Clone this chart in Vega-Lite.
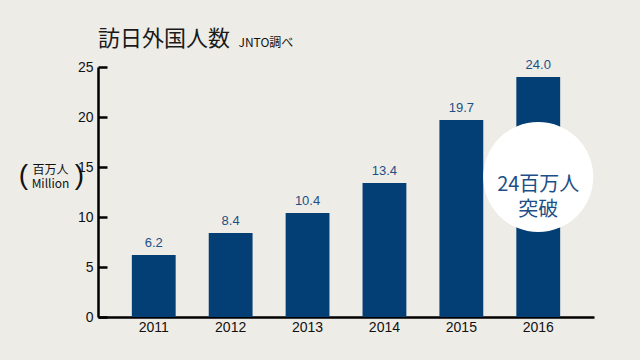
{
  "$schema": "https://vega.github.io/schema/vega-lite/v6.json",
  "width": 496,
  "height": 250,
  "autosize": {"type": "none"},
  "padding": {"left": 98, "top": 67, "right": 46, "bottom": 43},
  "background": "#eeece7",
  "config": {"view": {"stroke": null}, "font": "Liberation Sans"},
  "title": {
    "text": "訪日外国人数",
    "anchor": "start",
    "frame": "group",
    "font": "Noto Sans CJK JP",
    "fontSize": 22,
    "fontWeight": "normal",
    "color": "#1a1a1a",
    "offset": -15
  },
  "data": {
    "values": [
      {"year": "2011", "visitors": 6.2},
      {"year": "2012", "visitors": 8.4},
      {"year": "2013", "visitors": 10.4},
      {"year": "2014", "visitors": 13.4},
      {"year": "2015", "visitors": 19.7},
      {"year": "2016", "visitors": 24.0}
    ]
  },
  "layer": [
    {
      "mark": {"type": "bar", "color": "#033f74"},
      "encoding": {
        "x": {
          "field": "year", "type": "ordinal",
          "scale": {"paddingInner": 0.43, "paddingOuter": 0.44},
          "axis": {
            "orient": "bottom", "title": null, "labelAngle": 0,
            "domainColor": "#000", "domainWidth": 2.5, "ticks": false,
            "labelColor": "#111", "labelFontSize": 14, "labelPadding": 3
          }
        },
        "y": {
          "field": "visitors", "type": "quantitative",
          "scale": {"domain": [0, 25], "nice": false, "padding": 0, "zero": true},
          "axis": {
            "values": [0, 5, 10, 15, 20, 25],
            "grid": false,
            "domainColor": "#000", "domainWidth": 2.5,
            "tickColor": "#000", "tickWidth": 2.5, "tickSize": -9,
            "labelColor": "#111", "labelFontSize": 14, "labelPadding": 14,
            "title": ["百万人", "Million"],
            "titleFont": "Noto Sans CJK JP",
            "titleFontSize": 12, "titleFontWeight": "normal", "titleColor": "#111",
            "titleAngle": 0, "titleAlign": "center", "titleBaseline": "middle",
            "titleLineHeight": 14,
            "titleX": -48, "titleY": 102
          }
        }
      }
    },
    {
      "data": {"values": [{"year": "2016", "level": 14}]},
      "mark": {"type": "point", "shape": "circle", "filled": true, "color": "#ffffff", "opacity": 1, "size": 12100},
      "encoding": {
        "x": {"field": "year", "type": "ordinal", "axis": null},
        "y": {"field": "level", "type": "quantitative", "axis": null}
      }
    },
    {
      "mark": {"type": "text", "baseline": "bottom", "dy": -5, "fontSize": 13, "color": "#1d4f86"},
      "encoding": {
        "x": {
          "field": "year", "type": "ordinal",
          "axis": {
            "orient": "top", "labels": false, "ticks": false, "domain": false,
            "title": "JNTO調べ", "titleFont": "Noto Sans CJK JP", "titleFontSize": 12,
            "titleFontWeight": "normal", "titleColor": "#111",
            "titleAlign": "left", "titleBaseline": "alphabetic", "titleAngle": 0,
            "titleX": 140, "titleY": -21
          }
        },
        "y": {"field": "visitors", "type": "quantitative", "axis": null},
        "text": {"field": "visitors", "type": "quantitative", "format": ".1f"}
      }
    },
    {
      "data": {"values": [{"year": "2016", "level": 13.25, "note": "24百万人\n突破"}]},
      "mark": {"type": "text", "lineBreak": "\n", "baseline": "middle", "align": "center", "font": "Noto Sans CJK JP", "fontSize": 20, "lineHeight": 25, "color": "#1d4f86"},
      "encoding": {
        "x": {"field": "year", "type": "ordinal", "axis": null},
        "y": {
          "field": "level", "type": "quantitative",
          "axis": {
            "orient": "left", "labels": false, "ticks": false, "domain": false, "grid": false,
            "title": "(\u2003\u2002\u2006)", "titleFont": "Liberation Sans", "titleFontSize": 28,
            "titleFontWeight": "normal", "titleColor": "#111",
            "titleAngle": 0, "titleAlign": "center", "titleBaseline": "middle",
            "titleX": -47, "titleY": 108
          }
        },
        "text": {"field": "note", "type": "nominal"}
      }
    }
  ],
  "resolve": {"axis": {"x": "independent", "y": "independent"}}
}
